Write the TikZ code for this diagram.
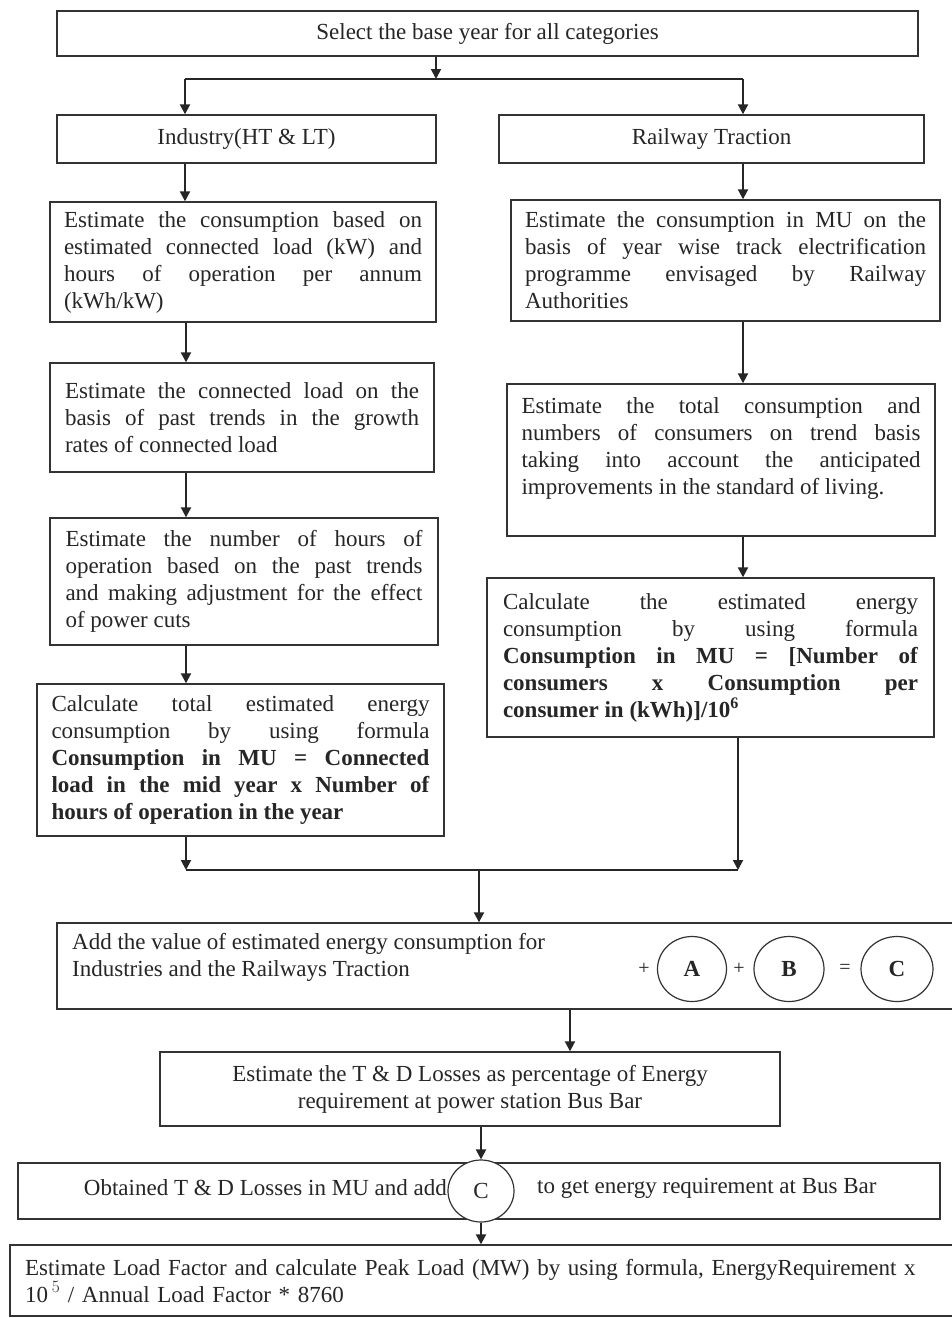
\documentclass[tikz,border=0pt]{standalone}
\usepackage{fontspec}
\setmainfont{Liberation Serif}
\usetikzlibrary{arrows.meta,shapes.geometric}
\begin{document}
\begin{tikzpicture}[x=1pt,y=-1pt,
  box/.style={draw=black!80, line width=1.4pt, fill=white, inner sep=0pt,
    font=\fontsize{23}{27}\selectfont, text=black!85},
  txt/.style={inner sep=0pt, font=\fontsize{23}{27}\selectfont, text=black!85},
  arr/.style={draw=black!85, line width=2pt, -{Triangle[length=10pt,width=10pt]}},
  ln/.style={draw=black!85, line width=2pt},
  ring/.style={draw=black!80, line width=1.2pt, ellipse, fill=white, inner sep=0pt,
    font=\fontsize{23}{27}\selectfont, text=black!85}]
\useasboundingbox (0,0) rectangle (951,1318);
\fill[white] (0,0) rectangle (951,1318);

% top
\node[box, minimum width=861pt, minimum height=45pt] (top) at (487.5,33.5) {Select the base year for all categories};
\node[box, minimum width=379pt, minimum height=48pt] (ind) at (246.5,139) {Industry(HT \& LT)};
\node[box, minimum width=425pt, minimum height=48pt] (rail) at (711.5,139) {Railway Traction};

% left column
\node[box, minimum width=386pt, minimum height=120pt, text width=358pt, align=justify] (L1) at (243,262)
 {Estimate the consumption based on\linebreak estimated connected load (kW) and\linebreak hours of operation per annum\linebreak (kWh/kW)};
\node[box, minimum width=384pt, minimum height=109pt, text width=354pt, align=justify] (L2) at (242,417.5)
 {Estimate the connected load on the\linebreak basis of past trends in the growth\linebreak rates of connected load};
\node[box, minimum width=388pt, minimum height=127pt, text width=357pt, align=justify] (L3) at (244,581.5)
 {Estimate the number of hours of\linebreak operation based on the past trends\linebreak and making adjustment for the effect\linebreak of power cuts};
\node[box, minimum width=407pt, minimum height=152pt, text width=378pt, align=justify] (L4) at (240.5,760)
 {Calculate total estimated energy\linebreak consumption by using formula\linebreak \textbf{Consumption in MU = Connected}\linebreak \textbf{load in the mid year x Number of}\linebreak \textbf{hours of operation in the year}};

% right column
\node[box, minimum width=429pt, minimum height=121pt, text width=401pt, align=justify] (R1) at (725.5,260.5)
 {Estimate the consumption in MU on the\linebreak basis of year wise track electrification\linebreak programme envisaged by Railway\linebreak Authorities};
\node[box, minimum width=428pt, minimum height=152pt, text width=399pt, align=justify] (R2) at (721,460)
 {Estimate the total consumption and\linebreak numbers of consumers on trend basis\linebreak taking into account the anticipated\linebreak improvements in the standard of living.\par\leavevmode\rule{0pt}{1pt}};
\node[box, minimum width=447pt, minimum height=159pt, text width=415pt, align=justify] (R3) at (710.5,657.5)
 {Calculate the estimated energy\linebreak consumption by using formula\linebreak \textbf{Consumption in MU = [Number of}\linebreak \textbf{consumers x Consumption per}\linebreak \textbf{consumer in (kWh)]/10$^{\mathbf{6}}$}};

% add box
\node[box, minimum width=898pt, minimum height=86pt] (add) at (506,966) {};
\node[txt, anchor=west, align=left] (addt) at (72,957)
 {Add the value of estimated energy consumption for\\Industries and the Railways Traction};
\node[txt, font=\fontsize{20}{22}\selectfont] (p1) at (644,969) {+};
\node[ring, minimum width=69pt, minimum height=65pt] (cA) at (692,969) {\textbf{A}};
\node[txt, font=\fontsize{20}{22}\selectfont] (p2) at (739,969) {+};
\node[ring, minimum width=70pt, minimum height=65pt] (cB) at (789,969) {\textbf{B}};
\node[txt, font=\fontsize{20}{22}\selectfont] (eq) at (845,969) {=};
\node[ring, minimum width=72pt, minimum height=65pt] (cC) at (897,969) {\textbf{C}};

% T&D
\node[box, minimum width=620pt, minimum height=74pt, align=center] (TD) at (470,1089)
 {Estimate the T \& D Losses as percentage of Energy\\requirement at power station Bus Bar};

% obtained
\node[box, minimum width=922pt, minimum height=56pt] (obt) at (479,1191) {};
\node[ring, minimum width=66pt, minimum height=62pt] (oC) at (481,1191) {C};
\node[txt, anchor=east] (ot1) at (447,1188) {Obtained T \& D Losses in MU and add};
\node[txt, anchor=west] (ot2) at (537,1188) {to get energy requirement at Bus Bar};

% last
\node[box, minimum width=945pt, minimum height=71pt, text width=915pt, align=left] (last) at (482.5,1280.5)
 {Estimate Load Factor and calculate Peak Load (MW) by using formula, EnergyRequirement x\\10\,$^{5}$ / Annual Load Factor * 8760};

% connectors
\coordinate (jm) at (436,79);
\coordinate (jl) at (185,79);
\coordinate (jr) at (743,79);
\draw[arr] (top.south -| jm) -- (jm);
\draw[ln] (jl) -- (jr);
\draw[arr] (jl) -- (ind.north -| jl);
\draw[arr] (jr) -- (rail.north -| jr);

\coordinate (cl) at (186,0);
\coordinate (cr) at (743,0);
\draw[arr] (ind.south -| jl) -- (L1.north -| jl);
\draw[arr] (L1.south -| cl) -- (L2.north -| cl);
\draw[arr] (L2.south -| cl) -- (L3.north -| cl);
\draw[arr] (L3.south -| cl) -- (L4.north -| cl);
\draw[arr] (rail.south -| cr) -- (R1.north -| cr);
\draw[arr] (R1.south -| cr) -- (R2.north -| cr);
\draw[arr] (R2.south -| cr) -- (R3.north -| cr);

\coordinate (bl) at (186,870);
\coordinate (br) at (738,870);
\coordinate (bm) at (479,870);
\draw[arr] (L4.south -| bl) -- (bl);
\draw[arr] (R3.south -| br) -- (br);
\draw[ln] (bl) -- (br);
\draw[arr] (bm) -- (add.north -| bm);

\coordinate (m2) at (570,0);
\draw[arr] (add.south -| m2) -- (TD.north -| m2);
\draw[arr] (TD.south -| oC) -- (oC.north);
\draw[arr] (oC.south) -- (last.north -| oC);
\end{tikzpicture}
\end{document}
